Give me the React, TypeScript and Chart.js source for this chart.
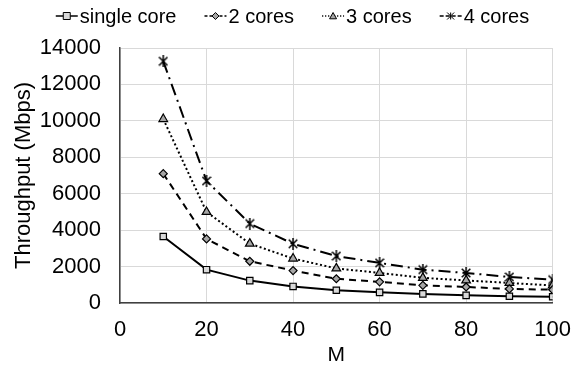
import React, { useEffect, useRef } from "react";
import { Chart, registerables } from "chart.js";

Chart.register(...registerables);

const mValues = [10, 20, 30, 40, 50, 60, 70, 80, 90, 100];
const singleCore = [3650, 1830, 1230, 910, 700, 585, 500, 420, 370, 345];
const twoCores = [7100, 3520, 2290, 1780, 1330, 1160, 970, 880, 775, 730];
const threeCores = [10100, 5000, 3260, 2440, 1900, 1650, 1380, 1240, 1100, 960];
const fourCores = [13270, 6700, 4360, 3250, 2580, 2200, 1830, 1650, 1430, 1280];
const seriesNames = ["single core", "2 cores", "3 cores", "4 cores"];
const xTicks = [0, 20, 40, 60, 80, 100];
const yTicks = [0, 2000, 4000, 6000, 8000, 10000, 12000, 14000];

const FONT = "'Liberation Sans', Arial, sans-serif";

type Style = {
  dash: number[];
  point: string;
  fill: string;
  radius: number;
};

const styles: Style[] = [
  { dash: [], point: "rect", fill: "#d9d9d9", radius: 4.5 },
  { dash: [7, 5], point: "rectRot", fill: "#a6a6a6", radius: 4 },
  { dash: [2, 2.5], point: "triangle", fill: "#a6a6a6", radius: 5 },
  { dash: [12, 5, 2, 5], point: "star", fill: "#000", radius: 5 },
];

function makeStar(size: number, lw: number): HTMLCanvasElement {
  const c = document.createElement("canvas");
  c.width = size;
  c.height = size + 2;
  const g = c.getContext("2d")!;
  g.strokeStyle = "#000";
  g.lineWidth = lw;
  const m = lw / 2;
  g.beginPath();
  g.moveTo(m, 1 + m);
  g.lineTo(size - m, 1 + size - m);
  g.moveTo(size - m, 1 + m);
  g.lineTo(m, 1 + size - m);
  g.moveTo(size / 2, 0);
  g.lineTo(size / 2, size + 2);
  g.stroke();
  return c;
}

const legendPlugin = {
  id: "customLegend",
  afterDraw(chart: any) {
    const ctx = chart.ctx as CanvasRenderingContext2D;
    ctx.save();
    ctx.font = `20px ${FONT}`;
    ctx.textBaseline = "middle";
    const iconW = 22;
    const gapIconText = 2;
    const gapItems = 28;
    const widths = seriesNames.map((n) => ctx.measureText(n).width);
    const total =
      widths.reduce((a, b) => a + b, 0) +
      seriesNames.length * (iconW + gapIconText) +
      (seriesNames.length - 1) * gapItems;
    let x = (chart.width - total) / 2;
    const y = 16;
    seriesNames.forEach((name, i) => {
      const s = styles[i];
      ctx.save();
      ctx.strokeStyle = "#000";
      ctx.lineWidth = 1.5;
      ctx.setLineDash(i === 2 ? [1.2, 1.8] : i === 1 ? [3, 2] : i === 3 ? [4, 2] : []);
      ctx.beginPath();
      ctx.moveTo(x, y);
      ctx.lineTo(x + iconW, y);
      ctx.stroke();
      ctx.restore();
      ctx.save();
      ctx.setLineDash([]);
      ctx.lineWidth = 1;
      ctx.strokeStyle = "#000";
      ctx.fillStyle = s.fill;
      const cx = x + iconW / 2;
      const r = 3.5;
      ctx.beginPath();
      if (s.point === "rect") {
        ctx.rect(cx - r, y - r, 2 * r, 2 * r);
        ctx.fill();
        ctx.stroke();
      } else if (s.point === "rectRot") {
        ctx.moveTo(cx, y - r);
        ctx.lineTo(cx + r, y);
        ctx.lineTo(cx, y + r);
        ctx.lineTo(cx - r, y);
        ctx.closePath();
        ctx.fill();
        ctx.stroke();
      } else if (s.point === "triangle") {
        ctx.moveTo(cx, y - r);
        ctx.lineTo(cx + r, y + r * 0.8);
        ctx.lineTo(cx - r, y + r * 0.8);
        ctx.closePath();
        ctx.fill();
        ctx.stroke();
      } else {
        ctx.moveTo(cx - r, y - r);
        ctx.lineTo(cx + r, y + r);
        ctx.moveTo(cx + r, y - r);
        ctx.lineTo(cx - r, y + r);
        ctx.moveTo(cx, y - r);
        ctx.lineTo(cx, y + r);
        ctx.stroke();
      }
      ctx.restore();
      ctx.fillStyle = "#000";
      ctx.fillText(name, x + iconW + gapIconText, y + 1);
      x += iconW + gapIconText + widths[i] + gapItems;
    });
    ctx.restore();
  },
};

export default function App() {
  const ref = useRef<HTMLCanvasElement | null>(null);
  useEffect(() => {
    if (!ref.current) return;
    const seriesData = [singleCore, twoCores, threeCores, fourCores];
    const star = makeStar(10, 1.5);
    const chart = new Chart(ref.current, {
      type: "line",
      data: {
        datasets: seriesData.map((vals, i) => ({
          label: seriesNames[i],
          data: vals.map((v, j) => ({ x: mValues[j], y: v })),
          borderColor: "#000",
          borderWidth: 2,
          borderDash: styles[i].dash,
          pointStyle: (i === 3 ? star : styles[i].point) as any,
          pointRadius: styles[i].radius,
          pointBackgroundColor: styles[i].fill,
          pointBorderColor: "#000",
          pointBorderWidth: 1.2,
          tension: 0,
          fill: false,
        })),
      },
      options: {
        animation: false,
        responsive: false,
        devicePixelRatio: 1,
        layout: { padding: { top: 48, right: 27, left: 0, bottom: 0 } },
        plugins: {
          legend: { display: false },
          tooltip: { enabled: false },
        },
        scales: {
          x: {
            type: "linear",
            min: 0,
            max: 100,
            afterBuildTicks: (s: any) => {
              s.ticks = xTicks.map((v) => ({ value: v }));
            },
            afterFit: (s: any) => {
              s.height = 63;
            },
            grid: { color: "#d9d9d9", lineWidth: 1, drawTicks: false },
            border: { color: "#404040", width: 1.5 },
            ticks: {
              font: { family: FONT, size: 22 },
              color: "#000",
              padding: 14,
              maxRotation: 0,
            },
            title: {
              display: true,
              text: "M",
              font: { family: FONT, size: 21 },
              color: "#000",
              padding: { top: 0, bottom: -2 },
            },
          },
          y: {
            min: 0,
            max: 14000,
            afterBuildTicks: (s: any) => {
              s.ticks = yTicks.map((v) => ({ value: v }));
            },
            afterFit: (s: any) => {
              s.width = 120;
            },
            grid: { color: "#d9d9d9", lineWidth: 1, drawTicks: false },
            border: { color: "#404040", width: 1.5 },
            ticks: {
              font: { family: FONT, size: 22 },
              color: "#000",
              padding: 19,
              callback: (v: any) => String(v),
            },
            title: {
              display: true,
              text: "Throughput (Mbps)",
              font: { family: FONT, size: 22 },
              color: "#000",
              padding: { top: 11, bottom: 0 },
            },
          },
        },
      },
      plugins: [legendPlugin],
    });
    return () => chart.destroy();
  }, []);
  return (
    <div style={{ position: "fixed", left: 0, top: 0, width: 585, height: 366 }}>
      <canvas ref={ref} width={585} height={366} style={{ width: 585, height: 366 }} />
    </div>
  );
}
